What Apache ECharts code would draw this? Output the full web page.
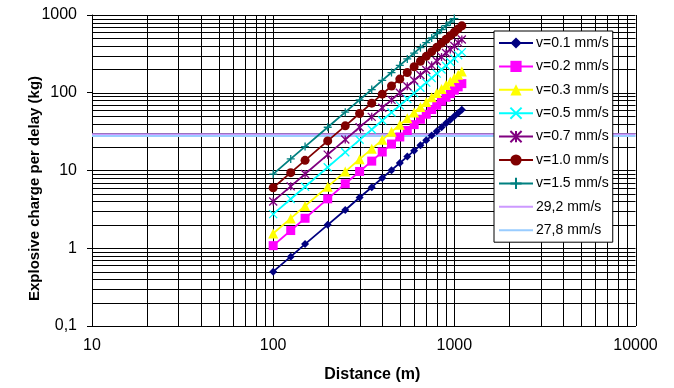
<!DOCTYPE html>
<html>
<head>
<meta charset="utf-8">
<script src="https://cdn.jsdelivr.net/npm/echarts@6/dist/echarts.min.js"></script>
<style>
  html, body { margin: 0; padding: 0; background: #fff; }
  #main { width: 674px; height: 388px; }
</style>
</head>
<body>
<div id="main"></div>
<script>
// distances (m)
var distances = [100, 125, 150, 200, 250, 300, 350, 400, 450, 500, 550, 600, 650, 700, 750, 800, 850, 900, 950, 1000, 1050, 1100];

// explosive charge per delay (kg)
var v01 = [0.5, 0.78, 1.13, 2, 3.1, 4.5, 6.1, 8, 10.1, 12.5, 15.1, 18, 21.1, 24.5, 28.1, 32, 36.1, 40.5, 45.1, 50, 55.1, 60.5];
var v02 = [1.08, 1.69, 2.43, 4.32, 6.75, 9.72, 13.2, 17.3, 21.9, 27, 32.7, 38.9, 45.6, 52.9, 60.8, 69.1, 78, 87.5, 97.5, 108, 119, 131];
var v03 = [1.55, 2.42, 3.49, 6.2, 9.69, 14, 19, 24.8, 31.4, 38.8, 46.9, 55.8, 65.5, 76, 87.2, 99.2, 112, 126, 140, 155, 171, 188];
var v05 = [2.75, 4.3, 6.19, 11, 17.2, 24.8, 33.7, 44, 55.7, 68.8, 83.2, 99, 116, 135, 155, 176, 199, 223, 248, 275, 303, 333];
var v07 = [4, 6.25, 9, 16, 25, 36, 49, 64, 81, 100, 121, 144, 169, 196, 225, 256, 289, 324, 361, 400, 441, 484];
var v10 = [6, 9.38, 13.5, 24, 37.5, 54, 73.5, 96, 122, 150, 182, 216, 254, 294, 338, 384, 434, 486, 542, 600, 662, 726];
var v15 = [9, 14.1, 20.3, 36, 56.3, 81, 110, 144, 182, 225, 272, 324, 380, 441, 506, 576, 650, 729, 812, 900];

// horizontal limits
var limitX = [10, 10000];
var lim292 = [29.2, 29.2];
var lim278 = [27.8, 27.8];

var names = ['v=0.1 mm/s', 'v=0.2 mm/s', 'v=0.3 mm/s', 'v=0.5 mm/s', 'v=0.7 mm/s', 'v=1.0 mm/s', 'v=1.5 mm/s', '29,2 mm/s', '27,8 mm/s'];

var FONT = 'Liberation Sans, Arial, sans-serif';

function pairs(xs, ys) {
  var out = [];
  for (var i = 0; i < ys.length; i++) out.push([xs[i], ys[i]]);
  return out;
}

// log grid positions (1..9 per decade)
var gridXs = [], gridYs = [];
for (var d = 10; d < 10000; d *= 10) {
  for (var k = 1; k < 10; k++) gridXs.push([d * k, 1]);
}
gridXs.push([10000, 1]);
for (var e = -1; e < 3; e++) {
  for (var k2 = 1; k2 < 10; k2++) gridYs.push([10, k2 * Math.pow(10, e)]);
}
gridYs.push([10, 1000]);

var crossPath = 'path://M0,0L10,10M10,0L0,10';
var starPath = 'path://M0,0L10,10M10,0L0,10M5,0L5,10';
var plusPath = 'path://M5,0L5,10M0,5L10,5';
var flatPath = 'path://M0,0L34,0L34,2L0,2Z';

function lineSeries(name, data, color, symbol, size, stroke) {
  var s = {
    name: name,
    type: 'line',
    data: pairs(distances, data),
    symbol: symbol,
    symbolSize: size,
    showAllSymbol: true,
    lineStyle: { color: color, width: 1.8 },
    itemStyle: { color: color },
    z: 5
  };
  if (stroke) {
    s.itemStyle = { color: 'transparent', borderColor: color, borderWidth: 1.3 };
  }
  return s;
}

var legendData = names.map(function (n, i) {
  return i >= 7 ? { name: n, icon: flatPath } : { name: n };
});

var myChart = echarts.init(document.getElementById('main'));

var option = {
  backgroundColor: '#fff',
  animation: false,
  grid: { left: 92, right: 38.5, top: 15, bottom: 58.7 },
  legend: {
    orient: 'vertical',
    left: 494,
    top: 31,
    width: 117,
    padding: [5, 4, 5, 4],
    itemGap: 9.4,
    itemWidth: 34,
    itemHeight: 14,
    backgroundColor: '#fff',
    borderColor: '#000',
    borderWidth: 1,
    borderRadius: 0,
    textStyle: { fontFamily: FONT, fontSize: 14, color: '#000', padding: [0, 0, 0, -2] },
    data: legendData
  },
  xAxis: {
    type: 'log',
    logBase: 10,
    min: 10,
    max: 10000,
    name: 'Distance (m)',
    nameLocation: 'middle',
    nameGap: 41,
    nameMoveOverlap: false,
    nameTextStyle: { fontFamily: FONT, fontSize: 16, fontWeight: 'bold', color: '#000', padding: [0, 0, 0, 17] },
    axisLine: { show: true, lineStyle: { color: '#000', width: 1 } },
    axisTick: { show: false },
    axisLabel: {
      fontFamily: FONT, fontSize: 16, color: '#000', margin: 12,
      formatter: function (v) { return String(v); }
    },
    splitLine: { show: false }
  },
  yAxis: {
    type: 'log',
    logBase: 10,
    min: 0.1,
    max: 1000,
    name: 'Explosive charge per delay (kg)',
    nameLocation: 'middle',
    nameGap: 50,
    nameMoveOverlap: false,
    nameTextStyle: { fontFamily: FONT, fontSize: 15, fontWeight: 'bold', color: '#000', padding: [0, 36, 0, 0] },
    axisLine: { show: true, lineStyle: { color: '#000', width: 1 } },
    axisTick: { show: true, length: 5, lineStyle: { color: '#000' } },
    axisLabel: {
      fontFamily: FONT, fontSize: 16, color: '#000', margin: 15,
      formatter: function (v) { return String(v).replace('.', ','); }
    },
    splitLine: { show: false }
  },
  series: [
    {
      type: 'custom',
      silent: true,
      z: 1,
      data: gridXs,
      renderItem: function (params, api) {
        var v = api.value(0);
        var p1 = api.coord([v, 0.1]);
        var p2 = api.coord([v, 1000]);
        return {
          type: 'line',
          shape: { x1: Math.round(p1[0]) + 0.5, y1: p1[1], x2: Math.round(p2[0]) + 0.5, y2: p2[1] },
          style: { stroke: '#000', lineWidth: 1 }
        };
      }
    },
    {
      type: 'custom',
      silent: true,
      z: 1,
      data: gridYs,
      renderItem: function (params, api) {
        var v = api.value(1);
        var p1 = api.coord([10, v]);
        var p2 = api.coord([10000, v]);
        return {
          type: 'line',
          shape: { x1: p1[0], y1: Math.round(p1[1]) + 0.5, x2: p2[0], y2: Math.round(p2[1]) + 0.5 },
          style: { stroke: '#000', lineWidth: 1 }
        };
      }
    },
    {
      name: names[7], type: 'line', data: pairs(limitX, lim292), symbol: 'none',
      lineStyle: { color: '#CC99FF', width: 2 }, itemStyle: { color: '#CC99FF' }, z: 3
    },
    {
      name: names[8], type: 'line', data: pairs(limitX, lim278), symbol: 'none',
      lineStyle: { color: '#99CCFF', width: 2 }, itemStyle: { color: '#99CCFF' }, z: 3
    },
    lineSeries(names[0], v01, '#000080', 'diamond', 8),
    lineSeries(names[1], v02, '#FF00FF', 'rect', 9),
    lineSeries(names[2], v03, '#FFFF00', 'triangle', 10),
    lineSeries(names[3], v05, '#00FFFF', crossPath, 8, true),
    lineSeries(names[4], v07, '#800080', starPath, 8, true),
    lineSeries(names[5], v10, '#800000', 'circle', 9),
    lineSeries(names[6], v15, '#008080', plusPath, 8, true)
  ]
};

myChart.setOption(option);
</script>
</body>
</html>
